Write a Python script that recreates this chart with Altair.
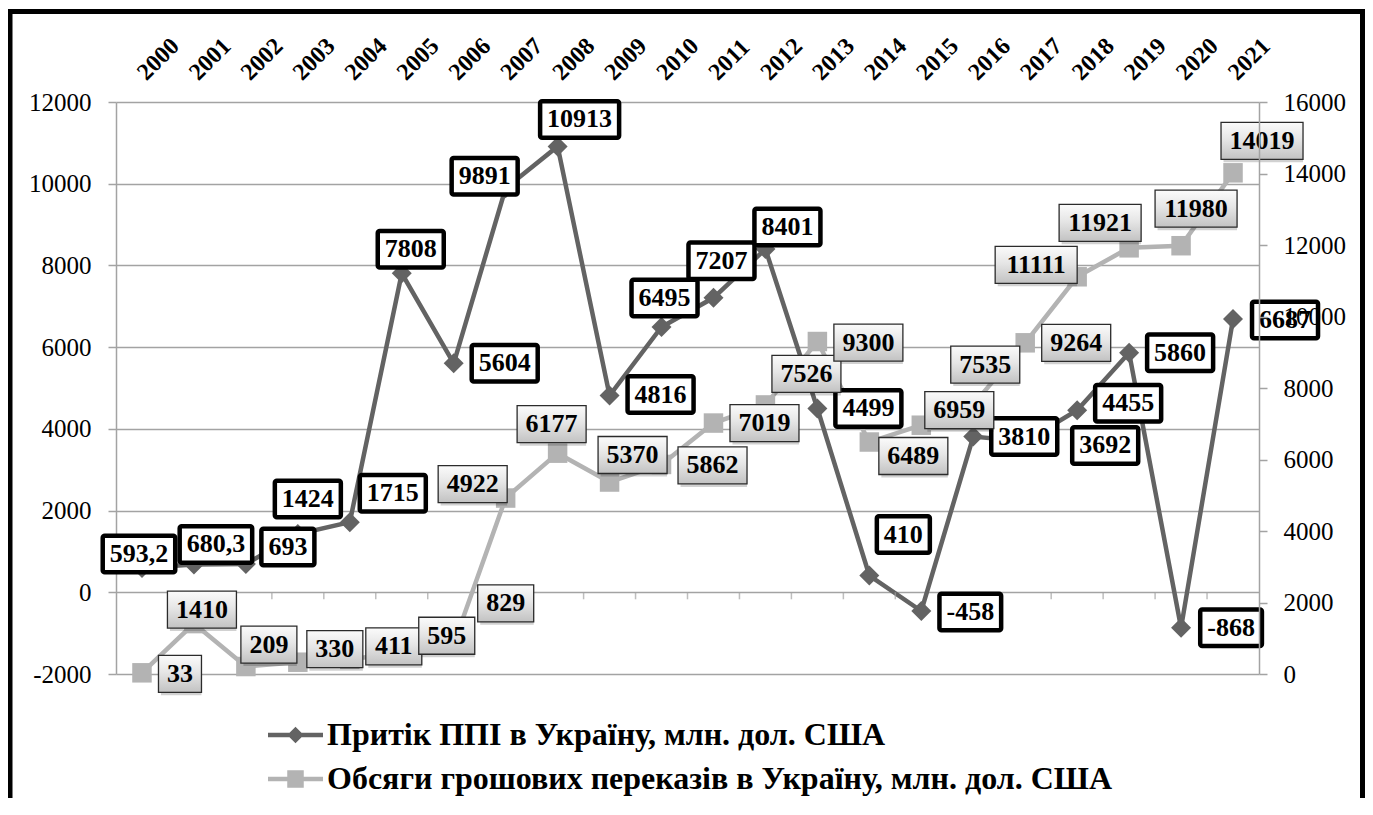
import altair as alt
import pandas as pd

# ---------------- data ----------------
years = list(range(2000, 2022))
fdi = [593.2, 680.3, 693, 1424, 1715, 7808, 5604, 9891, 10913, 4816, 6495,
       7207, 8401, 4499, 410, -458, 3810, 3692, 4455, 5860, -868, 6687]
fdi_text = ["593,2", "680,3", "693", "1424", "1715", "7808", "5604", "9891",
            "10913", "4816", "6495", "7207", "8401", "4499", "410", "-458",
            "3810", "3692", "4455", "5860", "-868", "6687"]
remit = [33, 1410, 209, 330, 411, 595, 829, 4922, 6177, 5370, 5862,
         7019, 7526, 9300, 6489, 6959, 7535, 9264, 11111, 11921, 11980, 14019]
remit_text = [str(v) for v in remit]

fdi_name = "Притік ППІ в Україну, млн. дол. США"
rem_name = "Обсяги грошових переказів в Україну, млн. дол. США"

left_ticks = [-2000, 0, 2000, 4000, 6000, 8000, 10000, 12000]
right_ticks = [0, 2000, 4000, 6000, 8000, 10000, 12000, 14000, 16000]

# label placement (pixel offsets of label centre from its point)
fdi_dx = [-3, 22, 42, 10, 43, 9, 51, -21, 22, 51, 3, 8, 22, 51, 34, 49, 51, 80, 51, 51, 50, 52]
fdi_dy = [-14, -20, -17, -35, -29, -24, 0, -12, -27, -1, -29, -37, -22, 0, -41, 1, 0, 4, -7, 0, 0, 1]
rem_dx = [38, 8, 23, 37, 44, 45, 52, -33, -6, 23, 51, 51, 41, 51, 44, 38, 12, 51, -41, -29, 15, 29]
rem_dy = [1, -14, -22, -13, -13, -17, -41, -14, -29, -27, 1, 0, -31, 1, 14, -15, -40, 0, -12, -25, -37, -32]

# ---------------- layout / style ----------------
W, H = 1143, 572
PX_YEAR = W / 22
PX_FDI = H / 14000
PX_REM = H / 16000
FONT = "Liberation Serif"
FDI_C = "#636363"
REM_C = "#b3b3b3"
GRID = "#a3a3a3"


def text_width(s):
    return sum(13.0 if ch.isdigit() else 6.5 if ch == "," else 8.7 for ch in s)


def label_frame(vals, texts, dxs, dys, ppy, pad_w, box_h):
    rows = []
    for yr, v, t, dx, dy in zip(years, vals, texts, dxs, dys):
        lx = yr + dx / PX_YEAR
        ly = v - dy / ppy
        hw = (text_width(t) + pad_w) / 2 / PX_YEAR
        hh = box_h / 2 / ppy
        rows.append(dict(year=yr, value=v, label=t, lx=lx, ly=ly,
                         bx1=lx - hw, bx2=lx + hw, by1=ly - hh, by2=ly + hh))
    return pd.DataFrame(rows)


fdi_df = pd.DataFrame({"year": years, "value": fdi})
rem_df = pd.DataFrame({"year": years, "value": remit})
fdi_lab = label_frame(fdi, fdi_text, fdi_dx, fdi_dy, PX_FDI, 14, 36.5)
rem_lab = label_frame(remit, remit_text, rem_dx, rem_dy, PX_REM, 17, 37)
bounds_df = pd.DataFrame({"b": [y + 0.5 for y in years[:-1]], "zero": 0})
legend_df = pd.DataFrame({"series": [fdi_name, rem_name]})

x_scale = alt.Scale(domain=[1999.5, 2021.5], nice=False, zero=False)
x_axis = alt.Axis(orient="top", values=years, labelExpr="'' + datum.value",
                  labelAngle=-45, labelAlign="left", labelBaseline="middle",
                  labelFont=FONT, labelFontWeight="bold", labelFontSize=24,
                  labelColor="black", labelPadding=26, labelOffset=-1,
                  ticks=False, domain=False, grid=False, title=None,
                  labelOverlap=False, labelFlush=False, labelBound=False)


def X(f):
    return alt.X(f, type="quantitative", scale=x_scale, axis=x_axis)


fdi_scale = alt.Scale(domain=[-2000, 12000], nice=False, zero=False)
rem_scale = alt.Scale(domain=[0, 16000], nice=False, zero=False)

left_axis = alt.Axis(orient="left", values=left_ticks, labelExpr="'' + datum.value",
                     grid=True, gridColor=GRID, gridWidth=1.5,
                     domainColor=GRID, domainWidth=1.5, tickColor=GRID, tickWidth=1.5,
                     tickSize=8, labelFont=FONT, labelFontSize=25, labelColor="black",
                     labelPadding=17, title=None)
right_axis = alt.Axis(orient="right", values=right_ticks, labelExpr="'' + datum.value",
                      grid=False, domainColor=GRID, domainWidth=1.5, tickColor=GRID,
                      tickWidth=1.5, tickSize=8, labelFont=FONT, labelFontSize=25,
                      labelColor="black", labelPadding=16, title=None, zindex=1)

# ---------------- series lines ----------------
rem_line = alt.Chart(rem_df).mark_line(color=REM_C, strokeWidth=4.5).encode(
    x=X("year"), y=alt.Y("value:Q", scale=rem_scale, axis=right_axis))
rem_pts = alt.Chart(rem_df).mark_point(shape="square", filled=True, size=380,
                                       color=REM_C, opacity=1).encode(
    x=X("year"), y=alt.Y("value:Q", scale=rem_scale, axis=right_axis))
rem_layer = alt.layer(rem_line, rem_pts)

fdi_line = alt.Chart(fdi_df).mark_line(color=FDI_C, strokeWidth=4.5).encode(
    x=X("year"), y=alt.Y("value:Q", scale=fdi_scale, axis=left_axis))
fdi_pts = alt.Chart(fdi_df).mark_point(shape="diamond", filled=True, size=400,
                                       color=FDI_C, opacity=1).encode(
    x=X("year"), y=alt.Y("value:Q", scale=fdi_scale, axis=left_axis))
fdi_layer = alt.layer(fdi_line, fdi_pts)

zero_ticks = alt.Chart(bounds_df).mark_tick(orient="vertical", size=7, thickness=1.5,
                                            color=GRID, yOffset=3.5).encode(
    x=X("b"), y=alt.Y("zero:Q", scale=fdi_scale, axis=None))

# ---------------- labels ----------------
fdi_box = alt.Chart(fdi_lab).mark_rect(fill="white", stroke="black", strokeWidth=4.5,
                                       cornerRadius=2).encode(
    x=X("bx1"), x2="bx2", y=alt.Y("by1:Q", scale=fdi_scale, axis=None), y2="by2")
fdi_txt = alt.Chart(fdi_lab).mark_text(font=FONT, fontSize=26, fontWeight="bold",
                                       color="black", align="center",
                                       baseline="middle").encode(
    x=X("lx"), y=alt.Y("ly:Q", scale=fdi_scale, axis=None), text="label:N")
fdi_labels = alt.layer(fdi_box, fdi_txt)

grad = alt.LinearGradient(gradient="linear",
                          stops=[alt.GradientStop(color="#fbfbfb", offset=0),
                                 alt.GradientStop(color="#e6e6e6", offset=0.45),
                                 alt.GradientStop(color="#c2c2c2", offset=1)],
                          x1=0, x2=0, y1=0, y2=1)
rem_shadow = alt.Chart(rem_lab).mark_rect(color="#000000", opacity=0.18,
                                          xOffset=2.5, yOffset=3).encode(
    x=X("bx1"), x2="bx2", y=alt.Y("by1:Q", scale=rem_scale, axis=None), y2="by2")
rem_box = alt.Chart(rem_lab).mark_rect(fill=grad, stroke="#2b2b2b", strokeWidth=1.3).encode(
    x=X("bx1"), x2="bx2", y=alt.Y("by1:Q", scale=rem_scale, axis=None), y2="by2")
rem_txt = alt.Chart(rem_lab).mark_text(font=FONT, fontSize=26, fontWeight="bold",
                                       color="black", align="center",
                                       baseline="middle").encode(
    x=X("lx"), y=alt.Y("ly:Q", scale=rem_scale, axis=None), text="label:N")
rem_labels = alt.layer(rem_shadow, rem_box, rem_txt)

# ---------------- legend ----------------
path_fdi = "M-1,-0.08L1,-0.08L1,0.08L-1,0.08Z M0,-0.3L0.3,0L0,0.3L-0.3,0Z"
path_rem = "M-1,-0.08L1,-0.08L1,0.08L-1,0.08Z M-0.3,-0.32L0.3,-0.32L0.3,0.32L-0.3,0.32Z"
leg = alt.Legend(orient="none", legendX=152, legendY=605.5, direction="vertical",
                 title=None, labelFont=FONT, labelFontSize=32, labelFontWeight="bold",
                 labelColor="black", labelLimit=1200, symbolSize=3025,
                 symbolStrokeWidth=0, rowPadding=-9, labelOffset=4, padding=0,
                 symbolOpacity=1)
legend_layer = alt.Chart(legend_df).mark_point(filled=True).encode(
    x=alt.value(-2000), y=alt.value(-2000),
    color=alt.Color("series:N", scale=alt.Scale(domain=[fdi_name, rem_name],
                                                range=[FDI_C, REM_C]), legend=leg),
    shape=alt.Shape("series:N", scale=alt.Scale(domain=[fdi_name, rem_name],
                                                range=[path_fdi, path_rem]), legend=leg))

# ---------------- outer frame ----------------
frame = alt.Chart(pd.DataFrame({"f": [0]})).mark_rect(
    fillOpacity=0, stroke="black", strokeWidth=5).encode(
    x=alt.value(-106), x2=alt.value(1246.5), y=alt.value(-90.5), y2=alt.value(730))

chart = alt.layer(rem_layer, fdi_layer, zero_ticks, fdi_labels, rem_labels,
                  legend_layer, frame).resolve_scale(y="independent").properties(
    width=W, height=H,
    autosize=alt.AutoSizeParams(type="none"),
    padding={"left": 108, "top": 94, "right": 106, "bottom": 124},
    background="white",
).configure_view(stroke=None)

chart.save("out.html", embed_options={"renderer": "svg", "actions": False})
